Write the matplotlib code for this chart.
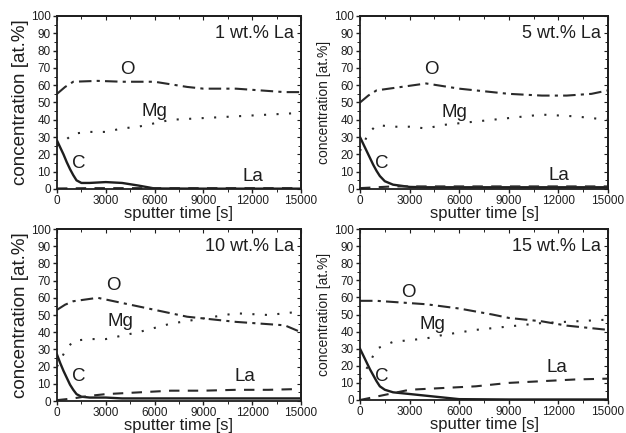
import matplotlib.pyplot as plt
from matplotlib.ticker import MultipleLocator

plt.rcParams['font.family'] = ['Liberation Sans', 'DejaVu Sans']

# sputter depth profiles, concentration in at.%
titles = ['1 wt.% La', '5 wt.% La', '10 wt.% La', '15 wt.% La']

t_o = [0, 500, 1000, 2500, 4000, 6000, 8000, 9000, 11000, 12500, 14000, 15000]
o_conc = [
    [55, 59, 62, 62.5, 62, 62, 59, 58, 58, 57, 56, 56],
    [50, 54, 57, 59, 61, 58, 56, 55, 54, 54, 55, 57],
    [53, 56, 58, 60, 57, 53, 49, 48, 46, 45, 44, 40],
    [58, 58, 58, 57, 56, 53.5, 50, 48, 46, 43.5, 42, 41],
]

t_mg = [0, 500, 1000, 2000, 3000, 4000, 5000, 7000, 9000, 11000, 13000, 15000]
mg_conc = [
    [25, 28, 32, 33, 33, 35, 36, 40, 41, 42, 43, 44],
    [22, 32, 37, 36, 36, 35, 37, 39, 41, 43, 42, 40],
    [20, 29, 35, 36, 36, 38, 40, 45, 48, 51, 50, 52],
    [12, 20, 30, 34, 35, 36, 38, 41, 43, 45, 46, 47],
]

t_c = [0, 200, 400, 600, 800, 1000, 1200, 1500, 2000, 3000, 4000, 5000, 6000, 9000, 15000]
c_conc = [
    [28, 24, 20, 15.5, 11.5, 8, 5, 3.5, 3.5, 4, 3.5, 2, 0.3, 0.2, 0.2],
    [30, 26, 22, 18, 14, 10.5, 7.5, 4.5, 2.5, 1.2, 1, 1, 1, 1, 1],
    [27, 22, 17.5, 13.5, 9.5, 6.5, 4, 2.5, 2, 2, 1.5, 1.5, 1.5, 1.5, 1.5],
    [30, 26, 22, 18, 14.5, 11, 8, 6, 4.5, 3.5, 2.5, 1.5, 0.5, 0.3, 0.3],
]

t_la = [0, 1000, 2000, 3000, 5000, 7000, 9000, 11000, 13000, 15000]
la_conc = [
    [0.3, 0.4, 0.5, 0.5, 0.5, 0.5, 0.5, 0.5, 0.5, 0.5],
    [0.5, 1, 1.5, 1.5, 1.5, 1.5, 1.5, 1.5, 1.5, 1.5],
    [0.5, 1.5, 3, 4, 5, 6, 6, 6.5, 6.5, 7],
    [0, 2, 4, 6, 7, 8, 10, 11, 12, 12.5],
]

# label positions (time, concentration) for O, Mg, C, La
label_pos = [
    [(3900, 69), (5200, 45), (900, 15), (11400, 7)],
    [(3900, 69), (4900, 44), (900, 15), (11400, 8)],
    [(3000, 67), (3100, 46), (900, 14.5), (10900, 14.5)],
    [(2500, 63), (3600, 44), (900, 14), (11250, 19)],
]

fig = plt.figure(figsize=(6.26, 4.33), dpi=100)
W, H = 626, 433
boxes = [(57, 16, 301, 189), (360, 16, 608, 189),
         (57, 229, 301, 401), (360, 229, 608, 400)]
ink = '#1e1e1e'
xt = [0, 3000, 6000, 9000, 12000, 15000]

for i, (l, t, r, b) in enumerate(boxes):
    ax = fig.add_axes([l / W, 1 - b / H, (r - l) / W, (b - t) / H])
    ax.plot(t_o, o_conc[i], color='#2a2a2a', lw=1.5, ls=(0, (6, 2.5, 1.5, 2.5)))
    ax.plot(t_mg, mg_conc[i], color='#2a2a2a', lw=1.5, ls=(0, (1, 5)))
    ax.plot(t_c, c_conc[i], color=ink, lw=1.7)
    ax.plot(t_la, la_conc[i], color='#2a2a2a', lw=1.5, ls=(0, (5, 4)))

    for name, (x, y) in zip(['O', 'Mg', 'C', 'La'], label_pos[i]):
        ax.text(x, y, name, fontsize=13.5, color=ink, ha='left', va='center')
    ax.text(0.97, 0.9, titles[i], transform=ax.transAxes, fontsize=13,
            ha='right', va='center', color=ink)

    ax.set_xlim(0, 15000)
    ax.set_ylim(0, 100)
    ax.set_xticks(xt)
    ax.set_yticks(range(0, 101, 10))
    ax.xaxis.set_minor_locator(MultipleLocator(1500))
    ax.yaxis.set_minor_locator(MultipleLocator(5))
    ax.tick_params(labelsize=8.5, length=3, width=1, pad=1.5, colors=ink, direction='out')
    ax.tick_params(which='minor', length=2, direction='out')

    # inward ticks along the top and right frame
    top = ax.secondary_xaxis('top')
    top.set_xticks(xt)
    top.xaxis.set_minor_locator(MultipleLocator(1500))
    top.tick_params(direction='in', length=3, labeltop=False, colors=ink)
    top.tick_params(which='minor', direction='in', length=2)
    rgt = ax.secondary_yaxis('right')
    rgt.set_yticks(range(0, 101, 10))
    rgt.yaxis.set_minor_locator(MultipleLocator(5))
    rgt.tick_params(direction='in', length=3, labelright=False, colors=ink)
    rgt.tick_params(which='minor', direction='in', length=2)
    for a in (ax, top, rgt):
        for s in a.spines.values():
            s.set_linewidth(1.3)
            s.set_color(ink)

    ax.set_xlabel('sputter time [s]', fontsize=12, labelpad=-1, color=ink)
    if i % 2 == 0:
        ax.set_ylabel('concentration [at.%]', fontsize=13.5, labelpad=1, color=ink)
    else:
        ax.set_ylabel('concentration [at.%]', fontsize=10, labelpad=2, color=ink)

fig.savefig('out.png', dpi=100)
